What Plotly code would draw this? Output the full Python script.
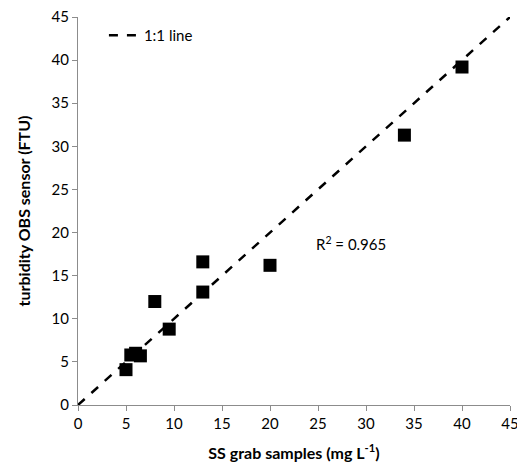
import plotly.graph_objects as go

ss_grab = [5.0, 5.5, 6.0, 6.5, 8.0, 9.5, 13.0, 13.0, 20.0, 34.0, 40.0]
obs_turbidity = [4.1, 5.8, 6.0, 5.7, 12.0, 8.8, 13.1, 16.6, 16.2, 31.3, 39.2]
line_x = [0, 45]
line_y = [0, 45]
tick_vals = [0, 5, 10, 15, 20, 25, 30, 35, 40, 45]

font_family = "Lato, Open Sans, sans-serif"

fig = go.Figure()
fig.add_trace(go.Scatter(
    x=line_x, y=line_y, mode="lines", name="1:1 line",
    line=dict(color="black", width=2.5, dash="dash"), showlegend=True,
))
fig.add_trace(go.Scatter(
    x=ss_grab, y=obs_turbidity, mode="markers", showlegend=False,
    marker=dict(symbol="square", size=13, color="black"),
))

fig.add_annotation(
    x=24.6, y=18.7, xref="x", yref="y", text="R<sup>2</sup> = 0.965",
    showarrow=False, xanchor="left", yanchor="middle",
    font=dict(family=font_family, size=15, color="black"),
)

axis_common = dict(
    range=[0, 45], tickvals=tick_vals, showgrid=False, zeroline=False,
    showline=True, linecolor="#8c8c8c", linewidth=1,
    ticks="outside", ticklen=5, tickcolor="#8c8c8c", automargin=False,
    ticklabeloverflow="allow",
    tickfont=dict(family=font_family, size=15, color="black"),
)

fig.update_layout(
    width=517, height=468,
    margin=dict(l=70, r=15, t=9, b=71, autoexpand=False),
    paper_bgcolor="white", plot_bgcolor="white",
    xaxis=dict(**axis_common,
               title=dict(text="<b>SS grab samples (mg L<sup>-1</sup>)</b>",
                          font=dict(family=font_family, size=16, color="black"),
                          standoff=16)),
    yaxis=dict(**axis_common,
               title=dict(text="<b>turbidity OBS sensor (FTU)</b>",
                          font=dict(family=font_family, size=16, color="black"),
                          standoff=16)),
    legend=dict(x=0.06, y=0.995, xanchor="left", yanchor="top",
                bgcolor="rgba(0,0,0,0)",
                font=dict(family=font_family, size=15, color="black")),
)

fig.write_html("out.html")
